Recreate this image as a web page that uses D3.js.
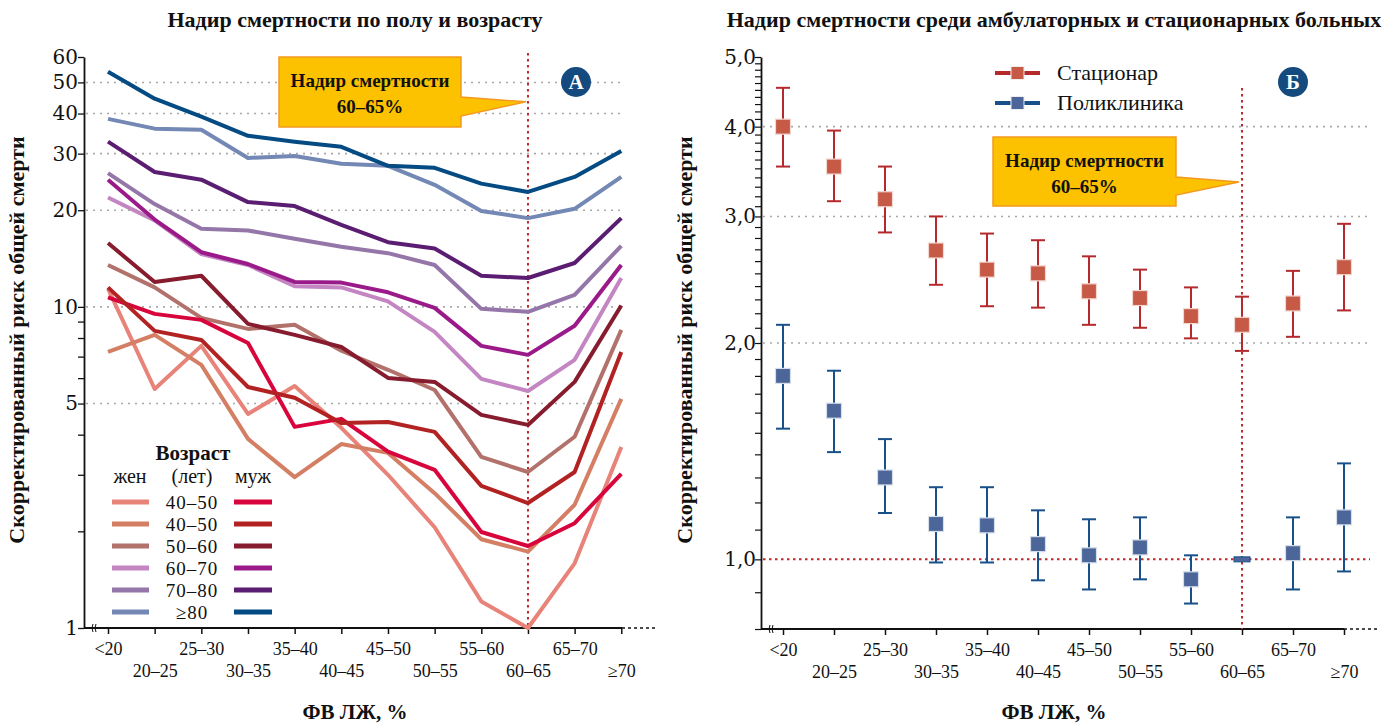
<!DOCTYPE html>
<html>
<head>
<meta charset="utf-8">
<script src="https://cdn.jsdelivr.net/npm/d3@7"></script>
<style>
body { margin: 0; background: #fff; }
svg text { font-family: "Liberation Serif", "DejaVu Serif", serif; fill: #111; }
</style>
</head>
<body>
<svg id="chart" width="1395" height="725"></svg>
<script>
// categories (ФВ ЛЖ, %)
var categories = ["<20", "20–25", "25–30", "30–35", "35–40", "40–45", "45–50", "50–55", "55–60", "60–65", "65–70", "≥70"];

// panel A: age groups, women / men
var ageGroups = ["40–50", "40–50", "50–60", "60–70", "70–80", "≥80"];
var womenRisk = [
  [11.4, 5.55, 7.56, 4.64, 5.67, 4.20, 3.0, 2.06, 1.21, 1.0, 1.59, 3.66],
  [7.24, 8.18, 6.6, 3.88, 2.95, 3.74, 3.51, 2.63, 1.89, 1.73, 2.42, 5.17],
  [13.5, 11.5, 9.24, 8.54, 8.79, 7.3, 6.37, 5.51, 3.41, 3.06, 3.94, 8.48],
  [21.9, 18.6, 14.6, 13.5, 11.6, 11.5, 10.4, 8.36, 5.97, 5.47, 6.84, 12.3],
  [26.1, 20.9, 17.5, 17.3, 16.3, 15.4, 14.7, 13.5, 9.86, 9.65, 10.9, 15.5],
  [38.5, 35.9, 35.6, 29.1, 29.5, 27.9, 27.5, 24.0, 19.9, 18.9, 20.2, 25.4]
];
var menRisk = [
  [10.7, 9.51, 9.11, 7.72, 4.23, 4.48, 3.54, 3.11, 1.99, 1.80, 2.12, 3.02],
  [11.5, 8.42, 7.89, 5.63, 5.21, 4.35, 4.38, 4.08, 2.77, 2.45, 3.06, 7.24],
  [15.8, 11.96, 12.5, 8.85, 8.18, 7.50, 6.01, 5.84, 4.61, 4.29, 5.84, 10.1],
  [24.9, 18.7, 14.8, 13.6, 11.96, 11.9, 11.1, 9.93, 7.56, 7.09, 8.73, 13.5],
  [32.7, 26.3, 24.9, 21.2, 20.6, 18.0, 15.9, 15.2, 12.5, 12.3, 13.7, 18.9],
  [54.0, 44.5, 39.1, 34.1, 32.7, 31.5, 27.5, 27.1, 24.2, 22.8, 25.4, 30.6]
];
var leftTicks = [1, 2, 3, 4, 5, 6, 7, 8, 9, 10, 20, 30, 40, 50, 60];
var leftLabels = [1, 5, 10, 20, 30, 40, 50, 60];
var leftGrid = [5, 10, 20, 30, 40, 50];

// panel Б: inpatients / outpatients
var seriesNames = ["Стационар", "Поликлиника"];
var inpatientHR = [4.0, 3.52, 3.17, 2.69, 2.53, 2.50, 2.36, 2.31, 2.18, 2.12, 2.27, 2.55];
var inpatientLow = [3.52, 3.15, 2.85, 2.41, 2.25, 2.24, 2.12, 2.10, 2.03, 1.95, 2.04, 2.22];
var inpatientHigh = [4.53, 3.95, 3.52, 3.0, 2.84, 2.78, 2.64, 2.53, 2.39, 2.32, 2.52, 2.93];
var outpatientHR = [1.80, 1.61, 1.30, 1.12, 1.115, 1.05, 1.013, 1.039, 0.938, 1.0, 1.02, 1.144];
var outpatientLow = [1.52, 1.41, 1.16, 0.99, 0.99, 0.935, 0.908, 0.938, 0.868, null, 0.908, 0.962];
var outpatientHigh = [2.12, 1.83, 1.47, 1.26, 1.26, 1.17, 1.137, 1.144, 1.013, null, 1.144, 1.36];
var rightLabels = [1, 2, 3, 4, 5];
var rightGrid = [2, 3, 4];

var womenColors = ["#e8837a", "#d47e64", "#b2726b", "#c486c2", "#9576a8", "#7388b4"];
var menColors = ["#d8053c", "#b32222", "#861c2e", "#9b1a8a", "#5a1d72", "#034b82"];

var svg = d3.select("#chart");

function dotted(sel, color, w, dash) {
  return sel.attr("stroke", color).attr("stroke-width", w).attr("stroke-dasharray", dash).attr("fill", "none");
}

function callout(g, x0, y0, x1, y1, tipX, tipY, a0, a1) {
  var p = "M" + x0 + "," + y0 + "H" + x1 + "V" + a0 + "L" + tipX + "," + tipY + "L" + x1 + "," + a1 + "V" + y1 + "H" + x0 + "Z";
  g.append("path").attr("d", p).attr("fill", "#fcc200").attr("stroke", "#f39a1e").attr("stroke-width", 1.5);
  var cx = (x0 + x1) / 2;
  g.append("text").attr("x", cx).attr("y", y0 + 30).attr("text-anchor", "middle")
    .attr("font-weight", "bold").attr("font-size", 19).text("Надир смертности");
  g.append("text").attr("x", cx).attr("y", y0 + 56).attr("text-anchor", "middle")
    .attr("font-weight", "bold").attr("font-size", 19).text("60–65%");
}

function badge(g, cx, cy, letter) {
  g.append("circle").attr("cx", cx).attr("cy", cy).attr("r", 15).attr("fill", "#154a7e");
  g.append("text").attr("x", cx).attr("y", cy + 7).attr("text-anchor", "middle")
    .attr("font-weight", "bold").attr("font-size", 21).style("fill", "#fff").text(letter);
}

function xAxis(g, x, y0, xStart, xEnd) {
  g.append("line").attr("x1", xStart).attr("x2", xEnd).attr("y1", y0).attr("y2", y0)
    .attr("stroke", "#111").attr("stroke-width", 1.8);
  dotted(g.append("line").attr("x1", xEnd).attr("x2", xEnd + 36).attr("y1", y0).attr("y2", y0), "#111", 1.5, "3,3");
  var ax = g.append("g").attr("transform", "translate(0," + y0 + ")")
    .call(d3.axisBottom(x).tickSize(6).tickSizeOuter(0));
  ax.select(".domain").remove();
  ax.selectAll(".tick line").attr("stroke", "#111").attr("stroke-width", 1.5);
  ax.selectAll(".tick text").attr("font-size", 18).style("font-family", "Liberation Serif")
    .attr("y", function (d, i) { return i % 2 ? 36 : 14; });
  // axis break mark
  var bx = xStart + 11;
  g.append("path").attr("d", "M" + (bx - 2) + "," + (y0 - 4) + "q-2,4 0,8M" + (bx + 1) + "," + (y0 - 4) + "q-2,4 0,8")
    .attr("stroke", "#111").attr("fill", "none").attr("stroke-width", 1);
}

function titles(g, cx, title, yTitleX) {
  g.append("text").attr("x", cx).attr("y", 27).attr("text-anchor", "middle")
    .attr("font-weight", "bold").attr("font-size", 22).text(title);
  g.append("text").attr("x", cx).attr("y", 719).attr("text-anchor", "middle")
    .attr("font-weight", "bold").attr("font-size", 21).text("ФВ ЛЖ, %");
  g.append("text").attr("transform", "translate(" + yTitleX + ",340) rotate(-90)").attr("text-anchor", "middle")
    .attr("font-weight", "bold").attr("font-size", 22).text("Скорректированный риск общей смерти");
}

// ---------- panel A ----------
var gA = svg.append("g");
var xL = d3.scalePoint().domain(categories).range([108, 621.3]);
var yL = d3.scaleLog().domain([1, 60]).range([628, 57]);

gA.selectAll(".gridA").data(leftGrid).enter().append("line")
  .attr("x1", 86).attr("x2", 622).attr("y1", function (d) { return yL(d); }).attr("y2", function (d) { return yL(d); })
  .call(dotted, "#a9a9a9", 1.6, "2,5");

var yAxA = gA.append("g").attr("transform", "translate(84,0)")
  .call(d3.axisLeft(yL).tickValues(leftTicks).tickSize(6).tickSizeOuter(0)
    .tickFormat(function (d) { return leftLabels.indexOf(d) >= 0 ? d : ""; }));
yAxA.select(".domain").attr("stroke", "#111").attr("stroke-width", 1.8);
yAxA.selectAll(".tick line").attr("stroke", "#111").attr("stroke-width", 1.3);
yAxA.selectAll(".tick text").attr("font-size", 20).attr("x", -6).style("font-family", "DejaVu Serif");

xAxis(gA, xL, 628, 84, 622);

dotted(gA.append("line").attr("x1", xL("60–65")).attr("x2", xL("60–65")).attr("y1", 53).attr("y2", 628), "#c0282c", 2, "2.5,3.5");

var lineL = d3.line().x(function (d, i) { return xL(categories[i]); }).y(function (d) { return yL(d); });
womenRisk.forEach(function (s, k) {
  gA.append("path").datum(s).attr("d", lineL).attr("fill", "none")
    .attr("stroke", womenColors[k]).attr("stroke-width", 4).attr("stroke-linejoin", "round");
});
menRisk.forEach(function (s, k) {
  gA.append("path").datum(s).attr("d", lineL).attr("fill", "none")
    .attr("stroke", menColors[k]).attr("stroke-width", 4).attr("stroke-linejoin", "round");
});

// legend A
var lg = gA.append("g");
lg.append("text").attr("x", 193).attr("y", 460).attr("text-anchor", "middle").attr("font-weight", "bold").attr("font-size", 21).text("Возраст");
lg.append("text").attr("x", 130).attr("y", 483).attr("text-anchor", "middle").attr("font-size", 20).text("жен");
lg.append("text").attr("x", 192).attr("y", 483).attr("text-anchor", "middle").attr("font-size", 20).text("(лет)");
lg.append("text").attr("x", 253).attr("y", 483).attr("text-anchor", "middle").attr("font-size", 20).text("муж");
ageGroups.forEach(function (a, k) {
  var yy = 502 + k * 22;
  lg.append("line").attr("x1", 112).attr("x2", 149).attr("y1", yy).attr("y2", yy).attr("stroke", womenColors[k]).attr("stroke-width", 5);
  lg.append("line").attr("x1", 234).attr("x2", 272).attr("y1", yy).attr("y2", yy).attr("stroke", menColors[k]).attr("stroke-width", 5);
  lg.append("text").attr("x", 192).attr("y", yy + 7).attr("text-anchor", "middle").attr("font-size", 19)
    .attr("letter-spacing", 1).text(a);
});

callout(gA, 279, 57, 461, 127, xL("60–65") - 2, yL(43.5), 97, 116);
badge(gA, 576, 82, "А");
titles(gA, 355, "Надир смертности по полу и возрасту", 24);

// ---------- panel Б ----------
var gB = svg.append("g");
var xR = d3.scalePoint().domain(categories).range([783, 1344]);
var yR = d3.scaleLog().domain([0.8, 5]).range([629, 57]);

gB.selectAll(".gridB").data(rightGrid).enter().append("line")
  .attr("x1", 763).attr("x2", 1370).attr("y1", function (d) { return yR(d); }).attr("y2", function (d) { return yR(d); })
  .call(dotted, "#a9a9a9", 1.6, "2,5");
dotted(gB.append("line").attr("x1", 763).attr("x2", 1370).attr("y1", yR(1)).attr("y2", yR(1)), "#c0282c", 2, "2.5,3.5");

var minorR = d3.range(8, 51).map(function (v) { return v / 10; });
var yAxB = gB.append("g").attr("transform", "translate(761,0)")
  .call(d3.axisLeft(yR).tickValues(minorR).tickSize(6).tickSizeOuter(0)
    .tickFormat(function (d) { return rightLabels.indexOf(d) >= 0 ? d3.format(".1f")(d).replace(".", ",") : ""; }));
yAxB.select(".domain").attr("stroke", "#111").attr("stroke-width", 1.8);
yAxB.selectAll(".tick line").attr("stroke", "#111").attr("stroke-width", 1.2);
yAxB.selectAll(".tick text").attr("font-size", 20).attr("x", -5).style("font-family", "DejaVu Serif");

xAxis(gB, xR, 629, 761, 1344);

dotted(gB.append("line").attr("x1", xR("60–65")).attr("x2", xR("60–65")).attr("y1", 88).attr("y2", 629), "#c0282c", 2, "2.5,3.5");

function errorSeries(g, hr, lo, hi, barColor, fill, edge) {
  hr.forEach(function (v, i) {
    var cx = xR(categories[i]);
    if (lo[i] != null) {
      g.append("line").attr("x1", cx).attr("x2", cx).attr("y1", yR(lo[i])).attr("y2", yR(hi[i])).attr("stroke", barColor).attr("stroke-width", 2);
      [lo[i], hi[i]].forEach(function (e) {
        g.append("line").attr("x1", cx - 7).attr("x2", cx + 7).attr("y1", yR(e)).attr("y2", yR(e)).attr("stroke", barColor).attr("stroke-width", 2);
      });
      g.append("rect").attr("x", cx - 7.5).attr("y", yR(v) - 7.5).attr("width", 15).attr("height", 15)
        .attr("fill", fill).attr("stroke", edge).attr("stroke-width", 1.2);
    } else {
      g.append("rect").attr("x", cx - 8).attr("y", yR(v) - 2.5).attr("width", 16).attr("height", 5)
        .attr("fill", fill).attr("stroke", barColor).attr("stroke-width", 1);
    }
  });
}
errorSeries(gB, inpatientHR, inpatientLow, inpatientHigh, "#b5292d", "#c65a46", "#f2d6d0");
errorSeries(gB, outpatientHR, outpatientLow, outpatientHigh, "#18508a", "#4c6699", "#d6deea");

// legend Б
var legColors = [["#b5292d", "#c65a46"], ["#18508a", "#4c6699"]];
seriesNames.forEach(function (n, k) {
  var yy = 73 + k * 30;
  gB.append("line").attr("x1", 995).attr("x2", 1040).attr("y1", yy).attr("y2", yy).attr("stroke", legColors[k][0]).attr("stroke-width", 4);
  gB.append("rect").attr("x", 1011).attr("y", yy - 6.5).attr("width", 13).attr("height", 13).attr("fill", legColors[k][1]).attr("stroke", "#eee").attr("stroke-width", 1);
  gB.append("text").attr("x", 1057).attr("y", yy + 7).attr("font-size", 22).text(n);
});

callout(gB, 993, 137, 1176, 206, xR("60–65") - 3, yR(3.35), 177, 195);
badge(gB, 1293, 82, "Б");
titles(gB, 1054, "Надир смертности среди амбулаторных и стационарных больных", 692);
</script>
</body>
</html>
